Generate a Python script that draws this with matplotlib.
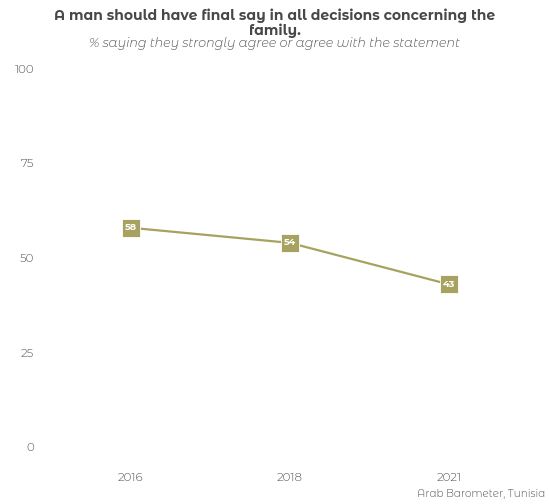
import matplotlib.pyplot as plt

plt.rcParams['font.family'] = ['Montserrat Alternates', 'Open Sans', 'DejaVu Sans']

years = ["2016", "2018", "2021"]
values = [58, 54, 43]
y_ticks = [0, 25, 50, 75, 100]

LINE_COLOR = "#A8A260"
TEXT_COLOR = "#555555"

fig = plt.figure(figsize=(5.49, 5.04), dpi=100)
ax = fig.add_axes([51 / 549, 1 - 456.5 / 504, 478 / 549, 397 / 504])

x = list(range(len(years)))
ax.plot(x, values, color=LINE_COLOR, linewidth=1.6, zorder=2)
ax.plot(x, values, linestyle="none", marker="s", markersize=13.5,
        color=LINE_COLOR, markeredgecolor="white", markeredgewidth=0.6, zorder=3)
for xi, v in zip(x, values):
    ax.text(xi, v, f"{v}", ha="center", va="center", color="white",
            fontsize=7, fontweight="bold", zorder=4)

ax.set_xlim(-0.5, 2.5)
ax.set_ylim(-2.5, 102.5)
ax.set_xticks(x)
ax.set_xticklabels(years)
ax.set_yticks(y_ticks)
ax.tick_params(length=0, colors=TEXT_COLOR, labelsize=8.5)
ax.tick_params(axis="x", pad=12)
ax.tick_params(axis="y", pad=12)
for lab in ax.get_xticklabels() + ax.get_yticklabels():
    lab.set_fontweight(300)
for s in ax.spines.values():
    s.set_visible(False)

fig.text(0.5, 1 - 23 / 504, "A man should have final say in all decisions concerning the\nfamily.",
         ha="center", va="center", fontsize=10, fontweight="bold",
         color="#484848", linespacing=1.0)
fig.text(0.5, 1 - 44 / 504, "% saying they strongly agree or agree with the statement",
         ha="center", va="center", fontsize=9.1, style="italic", weight=300, color=TEXT_COLOR)
fig.text(1 - 4 / 549, 1 - 494 / 504, "Arab Barometer, Tunisia",
         ha="right", va="center", fontsize=7.5, weight=300, color=TEXT_COLOR)

fig.savefig("out.png", dpi=100)
